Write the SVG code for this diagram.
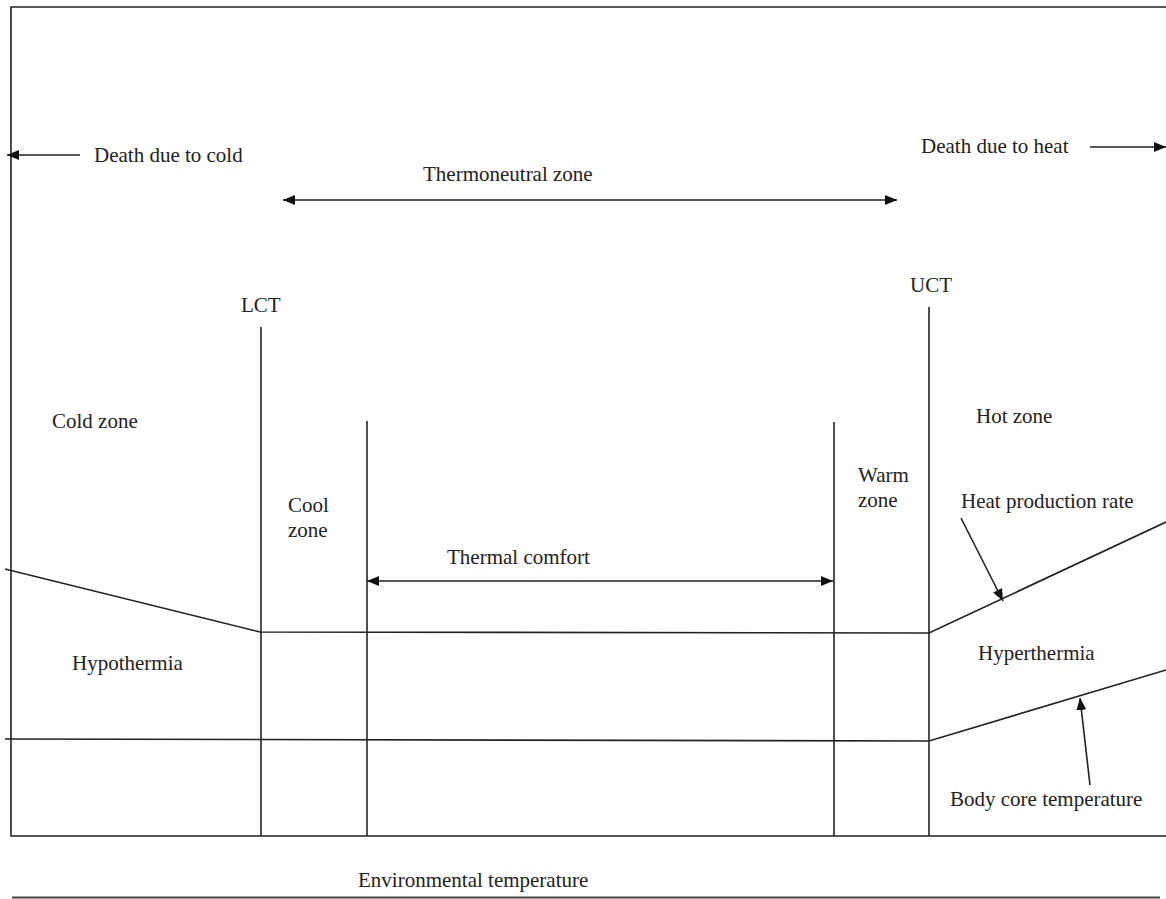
<svg xmlns="http://www.w3.org/2000/svg" width="1166" height="899" viewBox="0 0 1166 899">
  <style>
    .ln { stroke: #222; stroke-width: 1.6; fill: none; }
    .ax { stroke: #444; stroke-width: 2; fill: none; }
    .t { font-family: "Liberation Serif", "Times New Roman", serif; font-size: 21px; fill: #222; }
  </style>
  <defs>
    <marker id="ah" viewBox="0 0 12 10" refX="12" refY="5" markerWidth="12" markerHeight="10" markerUnits="userSpaceOnUse" orient="auto-start-reverse">
      <path d="M0,0 L12,5 L0,10 z" fill="#111"/>
    </marker>
  </defs>
  <rect width="1166" height="899" fill="#fff"/>

  <g id="frame">
    <polyline class="ln" points="1166,7 11,7 11,836 1166,836"/>
    <line class="ax" x1="12" y1="897.5" x2="1160" y2="897.5"/>
  </g>

  <g id="connectors">
    <line class="ln" x1="80" y1="155" x2="7" y2="155" marker-end="url(#ah)"/>
    <line class="ln" x1="1090" y1="147" x2="1166" y2="147" marker-end="url(#ah)"/>
    <line class="ln" x1="283" y1="200" x2="897" y2="200" marker-start="url(#ah)" marker-end="url(#ah)"/>
    <line class="ln" x1="367" y1="581" x2="833" y2="581" marker-start="url(#ah)" marker-end="url(#ah)"/>
    <line class="ln" x1="961" y1="518" x2="1003" y2="601" marker-end="url(#ah)"/>
    <line class="ln" x1="1090" y1="785" x2="1080" y2="698" marker-end="url(#ah)"/>
  </g>

  <g id="verticals">
    <line class="ln" x1="261" y1="327" x2="261" y2="836"/>
    <line class="ln" x1="367" y1="421" x2="367" y2="836"/>
    <line class="ln" x1="834" y1="422" x2="834" y2="836"/>
    <line class="ln" x1="929" y1="307" x2="929" y2="836"/>
  </g>

  <g id="curves">
    <polyline id="heat-production" class="ln" points="5,569 260,632 929,633 1166,522"/>
    <polyline id="body-core" class="ln" points="5,739 929,741 1166,670"/>
  </g>

  <g id="labels">
    <text id="death-cold" class="t" x="94" y="162">Death due to cold</text>
    <text id="death-heat" class="t" x="921" y="153">Death due to heat</text>
    <text id="thermoneutral" class="t" x="423" y="181">Thermoneutral zone</text>
    <text id="lct" class="t" x="241" y="312">LCT</text>
    <text id="uct" class="t" x="910" y="292">UCT</text>
    <text id="cold-zone" class="t" x="52" y="428">Cold zone</text>
    <text id="hot-zone" class="t" x="976" y="423">Hot zone</text>
    <text id="cool-zone" class="t" x="288" y="512">Cool<tspan x="288" y="537">zone</tspan></text>
    <text id="warm-zone" class="t" x="858" y="482">Warm<tspan x="858" y="507">zone</tspan></text>
    <text id="heat-rate" class="t" x="961" y="508">Heat production rate</text>
    <text id="thermal-comfort" class="t" x="447" y="564">Thermal comfort</text>
    <text id="hypothermia" class="t" x="72" y="670">Hypothermia</text>
    <text id="hyperthermia" class="t" x="978" y="660">Hyperthermia</text>
    <text id="body-core-label" class="t" x="950" y="806">Body core temperature</text>
    <text id="env-temp" class="t" x="358" y="887">Environmental temperature</text>
  </g>
</svg>
